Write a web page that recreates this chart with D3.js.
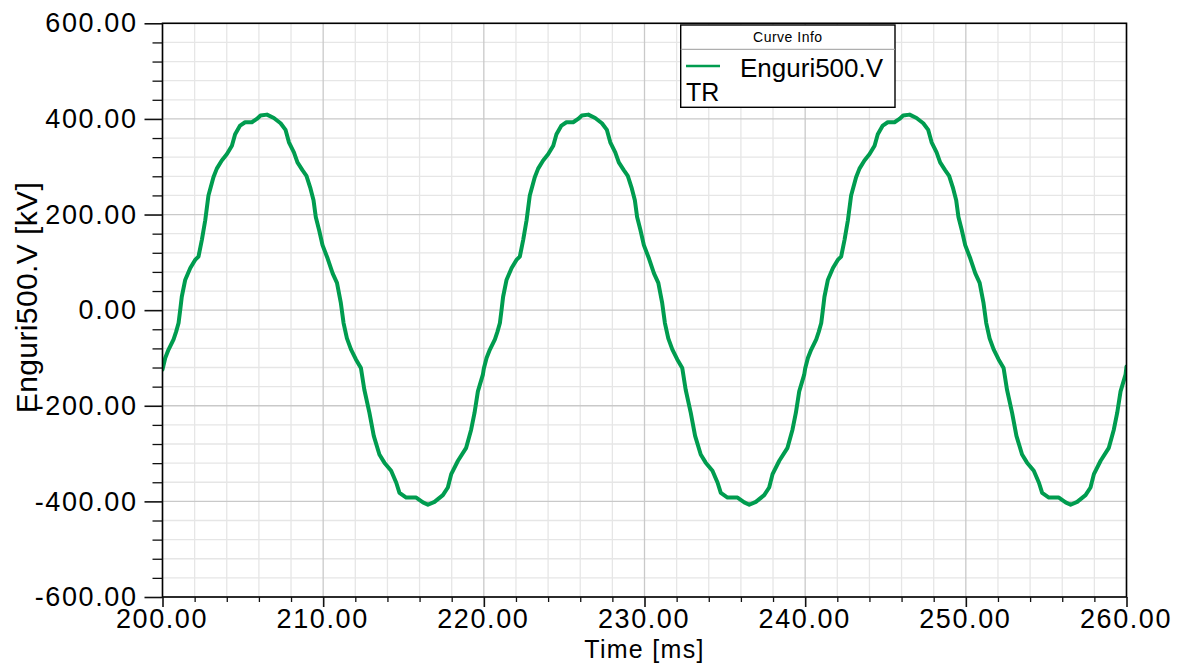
<!DOCTYPE html>
<html>
<head>
<meta charset="utf-8">
<script src="https://cdn.jsdelivr.net/npm/d3@7"></script>
<style>
  html, body { margin: 0; padding: 0; background: #fff; }
  svg { display: block; font-family: "Liberation Sans", Arial, Helvetica, sans-serif; }
</style>
</head>
<body>
<svg id="chart" width="1181" height="663"></svg>
<script>
// Time axis samples [ms]
const timeMs = [
  200, 200.17, 200.37, 200.69, 200.85, 201, 201.1, 201.2, 201.41, 201.73,
  202.03, 202.24, 202.45, 202.66, 202.86, 203.17, 203.38, 203.69, 204, 204.32,
  204.52, 204.83, 205.14, 205.56, 205.87, 206.1, 206.5, 206.93, 207.35, 207.66,
  207.87, 208.18, 208.4, 208.71, 208.96, 209.19, 209.4, 209.54, 209.75, 209.96,
  210.28, 210.59, 210.86, 211.1, 211.27, 211.48, 211.73, 212.04, 212.35, 212.56,
  212.88, 213.15, 213.5, 213.81, 214.23, 214.55, 214.75, 215.17, 215.79, 216.21,
  216.52, 216.93, 217.45, 217.76, 217.97, 218.39, 218.9, 219.21, 219.42, 219.63,
  219.94,
  220, 220.17, 220.37, 220.69, 220.85, 221, 221.1, 221.2, 221.41, 221.73,
  222.03, 222.24, 222.45, 222.66, 222.86, 223.17, 223.38, 223.69, 224, 224.32,
  224.52, 224.83, 225.14, 225.56, 225.87, 226.1, 226.5, 226.93, 227.35, 227.66,
  227.87, 228.18, 228.4, 228.71, 228.96, 229.19, 229.4, 229.54, 229.75, 229.96,
  230.28, 230.59, 230.86, 231.1, 231.27, 231.48, 231.73, 232.04, 232.35, 232.56,
  232.88, 233.15, 233.5, 233.81, 234.23, 234.55, 234.75, 235.17, 235.79, 236.21,
  236.52, 236.93, 237.45, 237.76, 237.97, 238.39, 238.9, 239.21, 239.42, 239.63,
  239.94,
  240, 240.17, 240.37, 240.69, 240.85, 241, 241.1, 241.2, 241.41, 241.73,
  242.03, 242.24, 242.45, 242.66, 242.86, 243.17, 243.38, 243.69, 244, 244.32,
  244.52, 244.83, 245.14, 245.56, 245.87, 246.1, 246.5, 246.93, 247.35, 247.66,
  247.87, 248.18, 248.4, 248.71, 248.96, 249.19, 249.4, 249.54, 249.75, 249.96,
  250.28, 250.59, 250.86, 251.1, 251.27, 251.48, 251.73, 252.04, 252.35, 252.56,
  252.88, 253.15, 253.5, 253.81, 254.23, 254.55, 254.75, 255.17, 255.79, 256.21,
  256.52, 256.93, 257.45, 257.76, 257.97, 258.39, 258.9, 259.21, 259.42, 259.63,
  259.94, 260
];

// Enguri500.V voltage [kV] at each sample above
const voltageKV = [
  -124, -100, -83, -61, -45, -27, 0, 28, 63, 88,
  105, 112, 147, 188, 240, 278, 296, 313, 326, 344,
  368, 386, 393, 393, 400, 407, 409, 402, 391, 377,
  351, 330, 309, 293, 281, 257, 230, 195, 167, 136,
  108, 77, 57, 15, -27, -59, -82, -103, -121, -166,
  -215, -263, -302, -319, -336, -361, -382, -392, -392, -402,
  -407, -401, -387, -371, -343, -315, -288, -250, -215, -170,
  -135,
  -122, -100, -83, -61, -45, -27, 0, 28, 63, 88,
  105, 112, 147, 188, 240, 278, 296, 313, 326, 344,
  368, 386, 393, 393, 400, 407, 409, 402, 391, 377,
  351, 330, 309, 293, 281, 257, 230, 195, 167, 136,
  108, 77, 57, 15, -27, -59, -82, -103, -121, -166,
  -215, -263, -302, -319, -336, -361, -382, -392, -392, -402,
  -407, -401, -387, -371, -343, -315, -288, -250, -215, -170,
  -135,
  -122, -100, -83, -61, -45, -27, 0, 28, 63, 88,
  105, 112, 147, 188, 240, 278, 296, 313, 326, 344,
  368, 386, 393, 393, 400, 407, 409, 402, 391, 377,
  351, 330, 309, 293, 281, 257, 230, 195, 167, 136,
  108, 77, 57, 15, -27, -59, -82, -103, -121, -166,
  -215, -263, -302, -319, -336, -361, -382, -392, -392, -402,
  -407, -401, -387, -371, -343, -315, -288, -250, -215, -170,
  -135, -118
];

// Axis ticks
const xMajorTicks = [200, 210, 220, 230, 240, 250, 260];
const xMinorTicks = [202, 204, 206, 208, 212, 214, 216, 218, 222, 224, 226, 228,
                     232, 234, 236, 238, 242, 244, 246, 248, 252, 254, 256, 258];
const yMajorTicks = [-600, -400, -200, 0, 200, 400, 600];
const yMinorTicks = [-560, -520, -480, -440, -360, -320, -280, -240, -160, -120, -80, -40,
                     40, 80, 120, 160, 240, 280, 320, 360, 440, 480, 520, 560];

const seriesName = ["Enguri500.V", "TR"];
const xTitle = "Time [ms]";
const yTitle = "Enguri500.V [kV]";
const legendTitle = "Curve Info";

const svg = d3.select("#chart");
const plotLeft = 162.5, plotRight = 1126.5, plotTop = 23.3, plotBottom = 597;

const x = d3.scaleLinear().domain([200, 260]).range([plotLeft, plotRight]);
const y = d3.scaleLinear().domain([-600, 600]).range([plotBottom, plotTop]);
const fmt = d => d.toFixed(2);

// grid
const grid = svg.append("g");
function vGrid(ticks, color) {
  grid.append("g").selectAll("line").data(ticks).join("line")
    .attr("x1", d => x(d)).attr("x2", d => x(d)).attr("y1", plotTop).attr("y2", plotBottom)
    .attr("stroke", color).attr("stroke-width", 1.3);
}
function hGrid(ticks, color) {
  grid.append("g").selectAll("line").data(ticks).join("line")
    .attr("y1", d => y(d)).attr("y2", d => y(d)).attr("x1", plotLeft).attr("x2", plotRight)
    .attr("stroke", color).attr("stroke-width", 1.3);
}
vGrid(xMinorTicks, "#e6e6e6");
hGrid(yMinorTicks, "#e6e6e6");
vGrid(xMajorTicks, "#c9c9c9");
hGrid(yMajorTicks, "#c9c9c9");

// curve
svg.append("clipPath").attr("id", "plotClip").append("rect")
  .attr("x", plotLeft).attr("y", plotTop)
  .attr("width", plotRight - plotLeft).attr("height", plotBottom - plotTop);

const pts = timeMs.map((t, i) => [t, voltageKV[i]]);
const line = d3.line().x(d => x(d[0])).y(d => y(d[1])).curve(d3.curveLinear);
svg.append("path")
  .attr("clip-path", "url(#plotClip)")
  .attr("d", line(pts))
  .attr("fill", "none")
  .attr("stroke", "#009c4f")
  .attr("stroke-width", 4)
  .attr("stroke-linejoin", "round")
  .attr("stroke-linecap", "round");

// frame
svg.append("rect")
  .attr("x", plotLeft).attr("y", plotTop)
  .attr("width", plotRight - plotLeft).attr("height", plotBottom - plotTop)
  .attr("fill", "none").attr("stroke", "#000").attr("stroke-width", 1.6);

// axes
const yMinorAxis = d3.axisLeft(y).tickValues(yMinorTicks).tickSize(10).tickSizeOuter(0).tickFormat("");
const yMajorAxis = d3.axisLeft(y).tickValues(yMajorTicks).tickSize(18).tickSizeOuter(0).tickPadding(7).tickFormat(fmt);
const xMinorAxis = d3.axisBottom(x).tickValues(xMinorTicks).tickSize(5).tickSizeOuter(0).tickFormat("");
const xMajorAxis = d3.axisBottom(x).tickValues(xMajorTicks).tickSize(10).tickSizeOuter(0).tickPadding(1.8).tickFormat(fmt);

function styleAxis(g, w) {
  g.select(".domain").remove();
  g.selectAll(".tick line").attr("stroke", "#111").attr("stroke-width", w);
  g.selectAll(".tick text")
    .attr("fill", "#000")
    .style("font-size", "27px")
    .style("letter-spacing", "1.6px")
    .style("font-family", "'Liberation Sans', Arial, sans-serif");
}

svg.append("g").attr("transform", `translate(${plotLeft},0)`).call(yMinorAxis).call(g => styleAxis(g, 1.3));
svg.append("g").attr("transform", `translate(${plotLeft},0)`).call(yMajorAxis).call(g => styleAxis(g, 1.6));
svg.append("g").attr("transform", `translate(0,${plotBottom})`).call(xMinorAxis).call(g => styleAxis(g, 1.3));
svg.append("g").attr("transform", `translate(0,${plotBottom})`).call(xMajorAxis).call(g => styleAxis(g, 1.6))
  .selectAll(".tick text").attr("dx", "-1");

// axis titles
svg.append("text")
  .attr("x", (plotLeft + plotRight) / 2)
  .attr("y", 658)
  .attr("text-anchor", "middle")
  .style("font-size", "25px")
  .style("letter-spacing", "1.3px")
  .text(xTitle);

svg.append("text")
  .attr("transform", "translate(37,297.5) rotate(-90)")
  .attr("text-anchor", "middle")
  .style("font-size", "30px")
  .style("letter-spacing", "0.4px")
  .text(yTitle);

// legend
const lg = svg.append("g");
const lx = 680.7, ly = 25, lw = 214.3, lh = 82.3;
lg.append("rect").attr("x", lx).attr("y", ly).attr("width", lw).attr("height", lh)
  .attr("fill", "#fff").attr("stroke", "#000").attr("stroke-width", 1.4);
lg.append("line").attr("x1", lx).attr("x2", lx + lw).attr("y1", 49.3).attr("y2", 49.3)
  .attr("stroke", "#9a9a9a").attr("stroke-width", 1);
lg.append("text").attr("x", lx + lw / 2).attr("y", 42.3).attr("text-anchor", "middle")
  .style("font-size", "14px").style("letter-spacing", "0.5px").text(legendTitle);
lg.append("line").attr("x1", 686).attr("x2", 720).attr("y1", 66).attr("y2", 66)
  .attr("stroke", "#009c4f").attr("stroke-width", 2.6);
lg.append("text").attr("x", 740).attr("y", 76.7)
  .style("font-size", "26px").text(seriesName[0]);
lg.append("text").attr("x", 686).attr("y", 101)
  .style("font-size", "25px").text(seriesName[1]);
</script>
</body>
</html>
